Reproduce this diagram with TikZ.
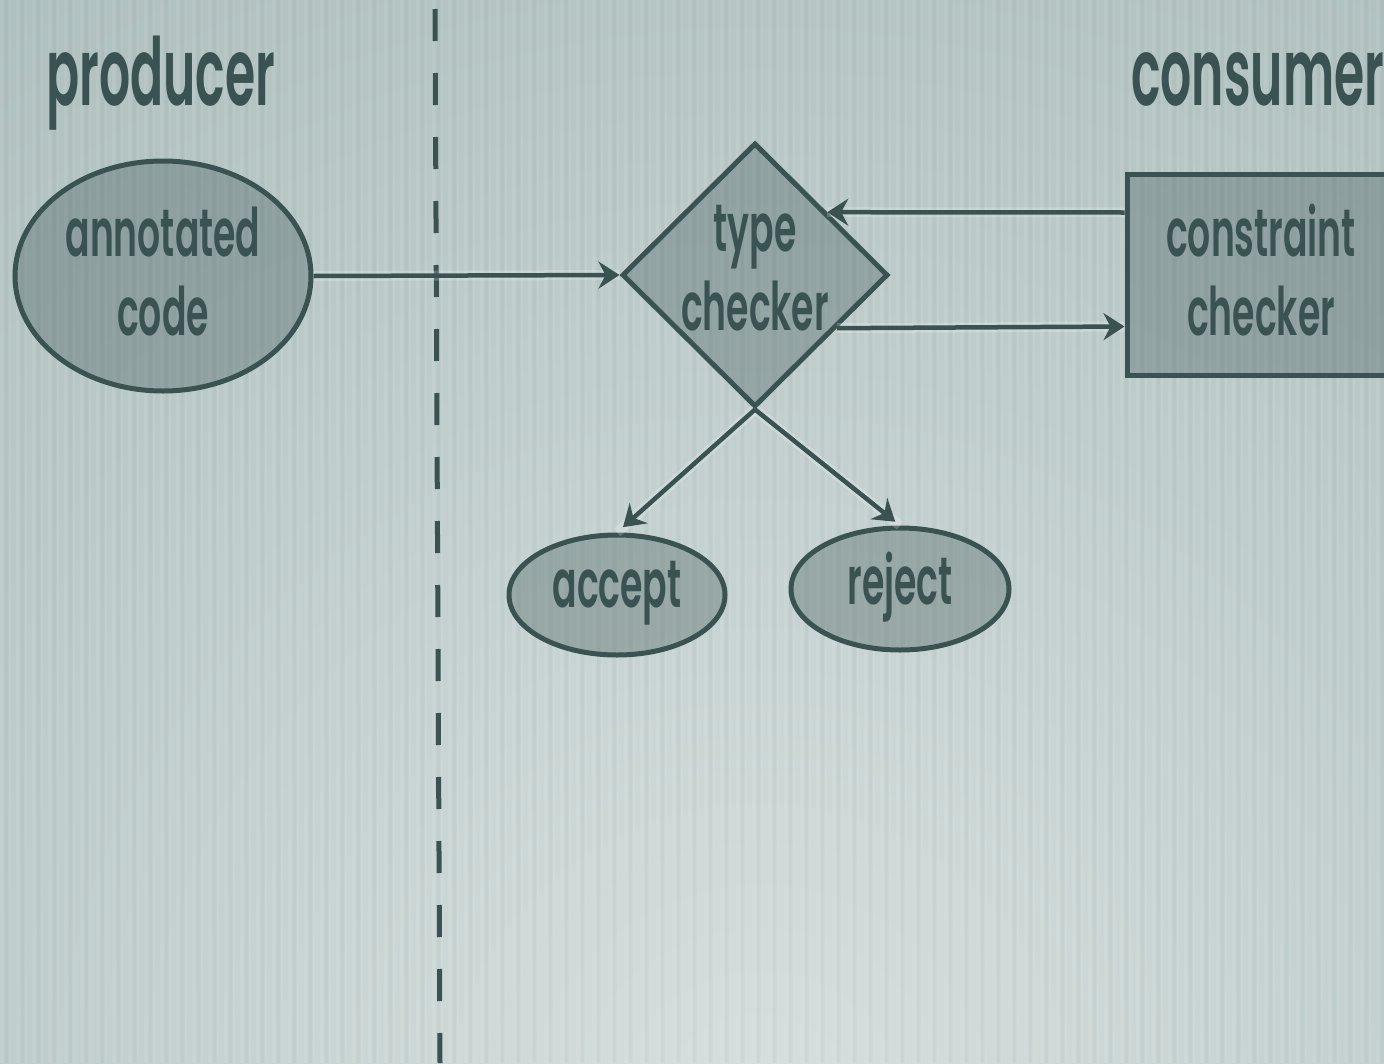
\documentclass[tikz,border=0pt]{standalone}
\usepackage{fontspec}
\setmainfont[FakeStretch=0.54,UprightFont={* SemiBold}]{Poppins}
\newfontfamily\titlefont[FakeStretch=0.52,UprightFont={* SemiBold}]{Poppins}
\usetikzlibrary{shapes.geometric,arrows.meta}
\definecolor{ink}{HTML}{3A5352}
\definecolor{bgdark}{HTML}{A9BCBB}
\definecolor{bglight}{HTML}{D6DFDE}
\begin{document}
\begin{tikzpicture}[x=1pt,y=-1pt,
  lbl/.style={text=ink,font=\fontsize{67}{79}\selectfont,align=center,inner sep=0pt},
  title/.style={text=ink,font=\titlefont\fontsize{94}{100}\selectfont,inner sep=0pt,anchor=base west},
  shp/.style={draw=ink,line width=5pt,fill=ink,fill opacity=0.33,text opacity=1,inner sep=0pt},
  oval/.style={shp,ellipse},
  arr/.style={draw=ink,line width=4.5pt,-{Stealth[length=21pt,width=27pt,inset=7pt]}},
  halo/.style={draw=white,line width=10pt,opacity=0.2}]
\useasboundingbox (0,0) rectangle (1384,1063);
\clip (0,0) rectangle (1384,1063);
% background
\fill[bgdark] (0,0) rectangle (1384,1063);
\shade[inner color=bglight,outer color=bgdark] (760,1120) circle (1500pt);
\foreach \i in {0,...,173}{
  \fill[white,opacity=0.08] (\i*8,0) rectangle (\i*8+3,1063);
}
\foreach \i in {0,...,86}{
  \fill[ink,opacity=0.04] (\i*16+5,0) rectangle (\i*16+9,1063);
}
% divider
\draw[ink,line width=5pt,dash pattern=on 32pt off 32pt] (435,9) -- (440,1063);
% titles
\node[title] (prod) at (46,105) {producer};
\node[title] (cons) at (1131,105) {consumer};
% shapes
\node[oval,minimum width=296pt,minimum height=230pt] (code) at (163,276) {};
\node[lbl] (codelab) at (163,272) {annotated\\code};
\node[shp,diamond,minimum width=266pt,minimum height=264pt] (tc) at (755,275) {};
\node[lbl] (tclab) at (755,268) {type\\checker};
\node[shp,rectangle,minimum width=268pt,minimum height=201pt] (cc) at (1261,274.5) {};
\node[lbl] (cclab) at (1261,270) {constraint\\checker};
\node[oval,minimum width=216pt,minimum height=120pt] (acc) at (617,595) {};
\node[lbl] (acclab) at (617,593) {accept};
\node[oval,minimum width=218pt,minimum height=122pt] (rej) at (900,589) {};
\node[lbl] (rejlab) at (900,587) {reject};
% connectors
\path[halo] (code.east) -- (tc.west);
\path[halo] ([yshift=62pt]cc.west) -- (tc.41);
\path[halo] (tc.-33.5) -- ([yshift=-52pt]cc.west);
\path[halo] (tc.south) -- (acc.north);
\path[halo] (tc.south) -- (rej.north);
\draw[arr] (code.east) -- (tc.west);
\draw[arr] ([yshift=62pt]cc.west) -- (tc.41);
\draw[arr] (tc.-33.5) -- ([yshift=-52pt]cc.west);
\draw[arr,shorten >=8pt] (tc.south) -- (acc.north);
\draw[arr,shorten >=6pt] (tc.south) -- (rej.north);
\end{tikzpicture}
\end{document}
